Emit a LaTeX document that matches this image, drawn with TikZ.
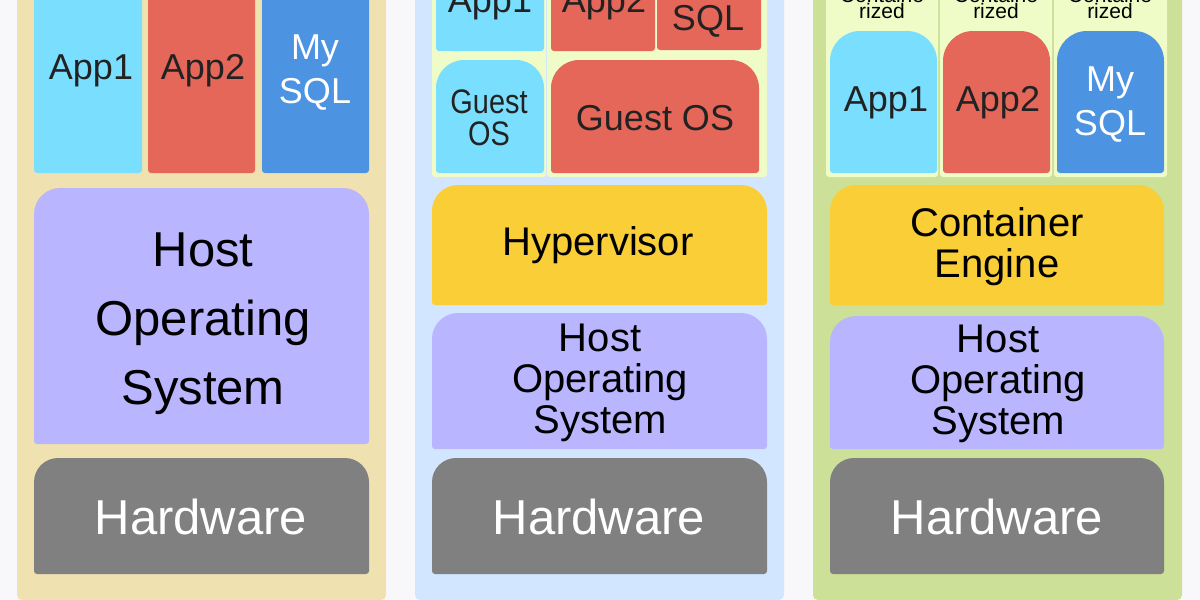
\documentclass[tikz,border=0pt]{standalone}
\usepackage{fontspec}
\setmainfont{Liberation Sans}
\definecolor{pagebg}{HTML}{F8F8FA}
\definecolor{panelA}{HTML}{F0E2B0}
\definecolor{panelB}{HTML}{D2E6FF}
\definecolor{panelC}{HTML}{CCE098}
\definecolor{cellc}{HTML}{EFFCC8}
\definecolor{cyanc}{HTML}{7ADEFF}
\definecolor{redc}{HTML}{E5675A}
\definecolor{bluec}{HTML}{4C94E2}
\definecolor{purplec}{HTML}{B9B5FF}
\definecolor{grayc}{HTML}{808080}
\definecolor{yellowc}{HTML}{F9CE36}
\definecolor{darkt}{HTML}{222222}
% x1 y1 x2 y2 rtop rbottom colour
\newcommand{\layerbox}[7]{%
  \fill[#7,rounded corners=#6pt] (#1,{(#2+#4)/2}) -- (#1,#4) -- (#3,#4) -- (#3,{(#2+#4)/2})
    [rounded corners=#5pt] -- (#3,#2) -- (#1,#2) -- cycle;}
\tikzset{
  lab/.style={inner sep=0pt,outer sep=0pt,align=center,anchor=center,text=darkt},
  big/.style={lab,text=black,font=\fontsize{49}{69}\selectfont},
  hw/.style={lab,text=white,font=\fontsize{49}{60}\selectfont},
  mid/.style={lab,text=black,font=\fontsize{40}{41}\selectfont},
  app/.style={lab,font=\fontsize{36}{44}\selectfont},
  guest/.style={lab,font=\fontsize{34}{32}\selectfont,xscale=0.85},
  small/.style={lab,text=black,font=\fontsize{21}{16}\selectfont}
}
\begin{document}
\begin{tikzpicture}[x=1pt,y=-1pt]
\useasboundingbox (0,0) rectangle (1200,600);
\clip (0,0) rectangle (1200,600);
\fill[pagebg] (0,0) rectangle (1200,600);
% panels
\layerbox{17}{-20}{386}{600}{0}{5}{panelA}
\layerbox{415}{-20}{784}{600}{0}{5}{panelB}
\layerbox{813}{-20}{1182}{600}{0}{5}{panelC}
% panel 1
\layerbox{34}{-20}{142}{173}{0}{3}{cyanc}
\layerbox{148}{-20}{255}{173}{0}{3}{redc}
\layerbox{262}{-20}{369}{173}{0}{3}{bluec}
\layerbox{34}{188}{369}{444}{26}{3}{purplec}
\layerbox{34}{458}{369}{574}{24}{3}{grayc}
\node[app] (a1) at (91,71) {App1};
\node[app] (a2) at (203,71) {App2};
\node[app,text=white] (a3) at (315,73) {My\\SQL};
\node[big] (a4) at (203,324) {Host\\Operating\\System};
\node[hw] (a5) at (201,517) {Hardware};
% panel 2
\layerbox{432}{-20}{546}{177}{0}{3}{cellc}
\layerbox{547}{-20}{767}{177}{0}{3}{cellc}
\layerbox{436}{-20}{544}{51}{0}{3}{cyanc}
\layerbox{551}{-20}{655}{51}{0}{3}{redc}
\layerbox{657}{-20}{761}{50}{0}{3}{redc}
\layerbox{436}{60}{544}{173}{28}{3}{cyanc}
\layerbox{551}{60}{759}{173}{28}{3}{redc}
\layerbox{432}{185}{767}{305}{26}{3}{yellowc}
\layerbox{432}{313}{767}{449}{26}{3}{purplec}
\layerbox{432}{458}{767}{574}{24}{3}{grayc}
\node[app] (b1) at (490,4) {App1};
\node[app] (b2) at (604,4) {App2};
\node[app] (b3) at (708,0) {My\\SQL};
\node[guest] (b4) at (489,118) {Guest\\OS};
\node[app] (b5) at (655,118) {Guest OS};
\node[mid] (b6) at (598,245) {Hypervisor};
\node[mid] (b7) at (600,383) {Host\\Operating\\System};
\node[hw] (b8) at (599,517) {Hardware};
% panel 3
\layerbox{826}{-20}{938}{177}{0}{3}{cellc}
\layerbox{940}{-20}{1052}{177}{0}{3}{cellc}
\layerbox{1054}{-20}{1167}{177}{0}{3}{cellc}
\layerbox{830}{31}{937}{173}{30}{3}{cyanc}
\layerbox{943}{31}{1050}{173}{30}{3}{redc}
\layerbox{1057}{31}{1164}{173}{30}{3}{bluec}
\layerbox{830}{185}{1164}{305}{26}{3}{yellowc}
\layerbox{830}{316}{1164}{449}{26}{3}{purplec}
\layerbox{830}{458}{1164}{574}{24}{3}{grayc}
\node[small] (c1) at (882,3) {Containe\\rized};
\node[small] (c2) at (996,3) {Containe\\rized};
\node[small] (c3) at (1110,3) {Containe\\rized};
\node[app] (c4) at (886,103) {App1};
\node[app] (c5) at (998,103) {App2};
\node[app,text=white] (c6) at (1110,105) {My\\SQL};
\node[mid] (c7) at (997,247) {Container\\Engine};
\node[mid] (c8) at (998,384) {Host\\Operating\\System};
\node[hw] (c9) at (997,517) {Hardware};
\end{tikzpicture}
\end{document}
